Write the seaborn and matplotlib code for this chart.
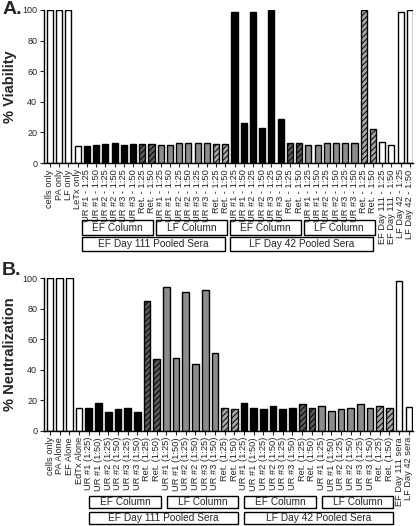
import matplotlib
matplotlib.use("Agg")
import matplotlib.pyplot as plt
import matplotlib.transforms as mtransforms
from matplotlib.patches import Rectangle
import seaborn as sns
import pandas as pd

sns.set_theme(style="ticks")
plt.rcParams['font.family'] = ['Liberation Sans', 'DejaVu Sans']
plt.rcParams['hatch.linewidth'] = 0.7

# ---------------- data ----------------
ur_a = ["UR #1 - 1:25", "UR #1 - 1:50", "UR #2 - 1:25", "UR #2 - 1:50",
        "UR #3 - 1:25", "UR #3 - 1:50", "Ret. - 1:25", "Ret. - 1:50"]
labels_a = (["cells only", "PA only", "LF only", "LeTx only"] + ur_a * 4 +
            ["EF Day 111 - 1:25", "EF Day 111 - 1:50", "LF Day 42 - 1:25", "LF Day 42 - 1:50"])
column_a = ["ctrl"] * 4 + ["EF"] * 8 + ["LF"] * 8 + ["EF"] * 8 + ["LF"] * 8 + ["ctrl"] * 4
values_a = [100, 100, 100, 11,
            11, 11.5, 12.5, 13, 11.5, 12.5, 12.5, 12.5,
            11.5, 11.5, 13, 13, 13, 13, 12.5, 12.5,
            99, 26, 99, 23, 100, 29, 13, 13,
            12, 12, 13, 13, 13, 13, 100, 22,
            13.5, 12, 98.5, 100]

ur_b = ["UR #1 (1:25)", "UR #1 (1:50)", "UR #2 (1:25)", "UR #2 (1:50)",
        "UR #3 (1:25)", "UR #3 (1:50)", "Ret. (1:25)", "Ret. (1:50)"]
labels_b = (["cells only", "PA Alone", "EF Alone", "EdTx Alone"] + ur_b * 4 +
            ["EF Day 111 sera", "LF Day 42 sera"])
column_b = ["ctrl"] * 4 + ["EF"] * 8 + ["LF"] * 8 + ["EF"] * 8 + ["LF"] * 8 + ["ctrl"] * 2
values_b = [100, 100, 100, 15,
            15, 18.5, 12.5, 14, 15, 12.5, 85, 47,
            94.5, 48, 91, 44, 92, 51, 15, 14,
            18.5, 15, 14, 16.5, 14, 15, 17.5, 15,
            16, 13, 14, 15, 17.5, 15, 16, 15,
            98.5, 15.5]

column_groups = [("EF Column", 4, 11), ("LF Column", 12, 19),
                 ("EF Column", 20, 27), ("LF Column", 28, 35)]
sera_groups = [("EF Day 111 Pooled Sera", 4, 19), ("LF Day 42 Pooled Sera", 20, 35)]

# ---------------- figure ----------------
fig = plt.figure(figsize=(4.16, 5.26), dpi=100)
ax_a = fig.add_axes([0.1046, 0.690, 0.888, 0.291])
ax_b = fig.add_axes([0.1046, 0.181, 0.888, 0.290])

GRAY = "#8c8c8c"


def style_for(label, col):
    if col == "ctrl":
        return "white", None
    base = "black" if col == "EF" else GRAY
    if label.startswith("Ret"):
        return ("#5a5a5a" if col == "EF" else "#a6a6a6"), "//////"
    return base, None


def draw_panel(ax, labels, cols, values, width, xlim, ylabel):
    ids = [str(i) for i in range(len(labels))]
    df = pd.DataFrame({"id": ids, "val": values})
    styles = [style_for(l, c) for l, c in zip(labels, cols)]
    pal = {i: s[0] for i, s in zip(ids, styles)}
    sns.barplot(data=df, x="id", y="val", hue="id", palette=pal, order=ids,
                hue_order=ids, legend=False, width=width, edgecolor="black",
                linewidth=1.0, ax=ax, errorbar=None, saturation=1)
    patches = sorted(ax.patches, key=lambda p: p.get_x())
    for p, s in zip(patches, styles):
        if s[1]:
            p.set_hatch(s[1])
    ax.set_xlim(*xlim)
    ax.set_ylim(0, 100)
    ax.set_yticks([0, 20, 40, 60, 80, 100])
    ax.tick_params(axis="y", labelsize=6.5, length=3, width=0.8, pad=1.5, direction="out")
    ax.set_xticks(range(len(labels)))
    ax.set_xticklabels(labels, rotation=90, fontsize=6.7)
    ax.tick_params(axis="x", length=3, width=0.8, pad=1.5, direction="out")
    ax.set_xlabel("")
    ax.set_ylabel(ylabel, fontsize=10.5, fontweight="bold", labelpad=4)
    for sp in ("top", "right"):
        ax.spines[sp].set_visible(False)
    for sp in ("left", "bottom"):
        ax.spines[sp].set_linewidth(1.0)
        ax.spines[sp].set_color("black")


def draw_boxes(ax, row_y, groups, pad_l, pad_r, fontsize=7.3):
    trans = mtransforms.blended_transform_factory(ax.transData, ax.transAxes)
    y0, y1 = row_y
    for name, s, e in groups:
        x0 = s + pad_l
        x1 = e + pad_r
        r = Rectangle((x0, y1), x1 - x0, y0 - y1, transform=trans, fill=False,
                      edgecolor="black", linewidth=1.0, clip_on=False)
        ax.add_patch(r)
        ax.text((x0 + x1) / 2, (y0 + y1) / 2, name, transform=trans,
                ha="center", va="center", fontsize=fontsize, clip_on=False)


draw_panel(ax_a, labels_a, column_a, values_a, 0.66, (-0.70, 39.33), "% Viability")
draw_panel(ax_b, labels_b, column_b, values_b, 0.69, (-0.67, 37.42), "% Neutralization")

draw_boxes(ax_a, (-0.373, -0.471), column_groups, -0.5, 0.2)
draw_boxes(ax_a, (-0.484, -0.575), sera_groups, -0.5, 0.0)
draw_boxes(ax_b, (-0.4265, -0.509), column_groups, 0.05, 0.4)
draw_boxes(ax_b, (-0.531, -0.614), sera_groups, 0.05, 0.4)

fig.text(0.005, 0.998, "A.", fontsize=14, fontweight="bold", va="top", ha="left")
fig.text(0.005, 0.502, "B.", fontsize=14, fontweight="bold", va="top", ha="left")

fig.savefig("out.png", dpi=100)
